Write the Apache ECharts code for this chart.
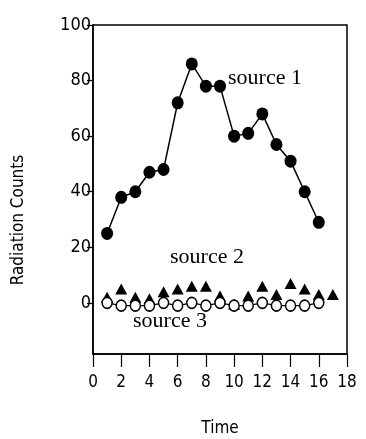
<!DOCTYPE html>
<html><head><meta charset="utf-8">
<script src="https://cdn.jsdelivr.net/npm/echarts@6/dist/echarts.min.js"></script>
<style>html,body{margin:0;padding:0;background:#fff}#c{width:366px;height:439px}</style>
</head><body><div id="c"></div>
<script>
var time1 = [1,2,3,4,5,6,7,8,9,10,11,12,13,14,15,16];
var source1 = [25,38,40,47,48,72,86,78,78,60,61,68,57,51,40,29];
var time2 = [1,2,3,4,5,6,7,8,9,10,11,12,13,14,15,16,17];
var source2 = [2,5,2,1.5,4,5,6,6,2.5,-0.5,2.5,6,3,7,5,3,3];
var time3 = [1,2,3,4,5,6,7,8,9,10,11,12,13,14,15,16];
var source3 = [0,-1,-1,-1,0,-1,0,-1,0,-1,-1,0,-1,-1,-1,0];
var yTicks = [0,20,40,60,80,100];
var xTicks = [0,2,4,6,8,10,12,14,16,18];
var labels = ['source 1','source 2','source 3'];
var xTitle = 'Time';
var yTitle = 'Radiation Counts';

function pairs(xs, ys){ return xs.map(function(x,i){ return [x, ys[i]]; }); }

var chart = echarts.init(document.getElementById('c'), null, {renderer:'canvas'});
var axisFont = '"Liberation Sans Narrow", "Arial Narrow", "DejaVu Sans Condensed", sans-serif';
var serif = '22px "Liberation Serif", "Times New Roman", serif';
chart.setOption({
  animation:false,
  backgroundColor:'#fff',
  grid:{left:93,right:19,top:25,bottom:85,containLabel:false,outerBoundsMode:'none',show:true,borderColor:'#000',borderWidth:1.5,backgroundColor:'transparent'},
  xAxis:{type:'value',min:xTicks[0],max:xTicks[xTicks.length-1],interval:2,
    name:xTitle,nameLocation:'middle',nameGap:66,
    nameTextStyle:{fontFamily:axisFont,fontSize:17,color:'#000'},
    axisLine:{show:true,onZero:false,lineStyle:{color:'#000',width:1.5}},
    axisTick:{show:true,inside:false,length:13,lineStyle:{color:'#000',width:1.2}},
    axisLabel:{fontFamily:axisFont,fontSize:17,color:'#000',margin:20},
    splitLine:{show:false}},
  yAxis:{type:'value',min:-18.4,max:100,
    axisLine:{show:true,onZero:false,lineStyle:{color:'#000',width:1.5}},
    axisTick:{show:true,length:6,customValues:yTicks,lineStyle:{color:'#000',width:1.2}},
    axisLabel:{fontFamily:axisFont,fontSize:18,color:'#000',margin:2,customValues:yTicks},
    splitLine:{show:false}},
  series:[
    {name:labels[0],type:'line',data:pairs(time1,source1),symbol:'circle',symbolSize:[12,13],
      lineStyle:{color:'#000',width:1.5},itemStyle:{color:'#000'},z:3},
    {name:labels[1],type:'scatter',data:pairs(time2,source2),symbol:'triangle',symbolSize:[12,11],
      itemStyle:{color:'#000',opacity:1},z:4},
    {name:labels[2],type:'line',data:pairs(time3,source3),symbol:'circle',symbolSize:[10,11],showSymbol:true,
      lineStyle:{color:'#000',width:1.2},itemStyle:{color:'#fff',borderColor:'#000',borderWidth:1.5},z:5}
  ],
  graphic:[
    {type:'text',x:19,y:220,rotation:Math.PI/2,style:{text:yTitle,font:'17px ' + axisFont,fill:'#000',align:'center',verticalAlign:'middle'}},
    {type:'text',left:228,top:67,style:{text:labels[0],font:serif,fill:'#000'}},
    {type:'text',left:170,top:246,style:{text:labels[1],font:serif,fill:'#000'}},
    {type:'text',left:133,top:310,style:{text:labels[2],font:serif,fill:'#000'}}
  ]
});
</script></body></html>
